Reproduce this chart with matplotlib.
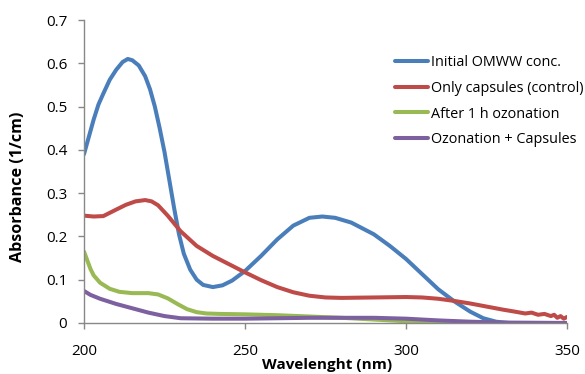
import matplotlib.pyplot as plt

plt.rcParams['font.family'] = ['Open Sans', 'DejaVu Sans']

# wavelength (nm) / absorbance (1/cm)
wl_initial = [200, 201.5, 203, 204.5, 206, 208, 210, 212, 213.6, 215, 217, 219, 220.5, 222, 223.5,
              225, 226.5, 228, 229.5, 231, 233, 235, 237, 240, 243, 246, 250, 255, 260, 265, 270,
              274, 278, 283, 290, 295, 300, 305, 310, 315, 320, 324, 328, 332, 350]
abs_initial = [0.39, 0.43, 0.47, 0.505, 0.53, 0.562, 0.585, 0.603, 0.61, 0.607, 0.595, 0.57, 0.54, 0.50, 0.45,
               0.395, 0.33, 0.265, 0.205, 0.16, 0.123, 0.10, 0.088, 0.083, 0.087, 0.098, 0.12, 0.155, 0.193, 0.225, 0.243,
               0.246, 0.243, 0.232, 0.205, 0.178, 0.148, 0.113, 0.078, 0.05, 0.026, 0.011, 0.003, 0.0, 0.0]

wl_capsules = [200, 203, 206, 210, 213, 216, 219, 221, 223, 226, 230, 235, 240, 245, 250, 255,
               260, 265, 270, 275, 280, 290, 300, 305, 310, 315, 320, 325, 330, 334, 337, 339,
               341, 343, 345, 346, 347, 348, 349, 350]
abs_capsules = [0.248, 0.246, 0.247, 0.262, 0.273, 0.281, 0.284, 0.281, 0.272, 0.248, 0.212, 0.178, 0.155, 0.136, 0.117, 0.099,
                0.083, 0.071, 0.063, 0.059, 0.058, 0.059, 0.06, 0.059, 0.056, 0.051, 0.045, 0.038, 0.031, 0.026, 0.022, 0.024,
                0.019, 0.021, 0.016, 0.019, 0.012, 0.016, 0.010, 0.014]

wl_ozone = [200, 201, 202, 203, 205, 208, 211, 215, 220, 223, 226, 229, 232, 235, 238, 242,
            250, 260, 270, 280, 290, 300, 310, 320, 350]
abs_ozone = [0.165, 0.145, 0.125, 0.11, 0.093, 0.079, 0.072, 0.069, 0.069, 0.066, 0.057, 0.044, 0.032, 0.025, 0.022, 0.021,
             0.02, 0.018, 0.015, 0.012, 0.008, 0.004, 0.002, 0.0, 0.0]

wl_ozone_caps = [200, 202, 205, 210, 215, 220, 225, 230, 240, 250, 260, 270, 280, 290, 300,
                 310, 320, 330, 350]
abs_ozone_caps = [0.074, 0.065, 0.056, 0.044, 0.034, 0.024, 0.016, 0.011, 0.010, 0.010, 0.011, 0.012, 0.012, 0.012, 0.010,
                  0.006, 0.003, 0.001, 0.0]

labels = ["Initial OMWW conc.", "Only capsules (control)", "After 1 h ozonation", "Ozonation + Capsules"]
colors = ["#4A7EBB", "#BE4B48", "#98B954", "#7D60A0"]
x_ticks = [200, 250, 300, 350]
y_ticks = [0, 0.1, 0.2, 0.3, 0.4, 0.5, 0.6, 0.7]
y_tick_labels = ["0", "0.1", "0.2", "0.3", "0.4", "0.5", "0.6", "0.7"]


def main():
    fig = plt.figure(figsize=(5.85, 3.74), dpi=100)
    ax = fig.add_axes([84 / 585, 1 - 323 / 374, (567 - 84) / 585, (323 - 20) / 374])

    series = [(wl_initial, abs_initial), (wl_capsules, abs_capsules),
              (wl_ozone, abs_ozone), (wl_ozone_caps, abs_ozone_caps)]
    for (x, y), lab, c in zip(series, labels, colors):
        ax.plot(x, y, color=c, lw=2.9, label=lab, solid_capstyle='round',
                solid_joinstyle='round')

    ax.set_xlim(200, 350)
    ax.set_ylim(0, 0.7)
    ax.set_xticks(x_ticks)
    ax.set_yticks(y_ticks)
    ax.set_yticklabels(y_tick_labels)

    for s in ["top", "right"]:
        ax.spines[s].set_visible(False)
    for s in ["left", "bottom"]:
        ax.spines[s].set_color("#888888")
        ax.spines[s].set_linewidth(1.0)
    ax.tick_params(axis="both", direction="out", length=4, width=1.0, color="#888888",
                   labelsize=11, labelcolor="black")
    ax.tick_params(axis="x", pad=11)
    ax.tick_params(axis="y", pad=8)

    ax.set_xlabel("Wavelenght (nm)", fontsize=11, fontweight="bold")
    ax.xaxis.set_label_coords(0.504, -0.115)
    ax.set_ylabel("Absorbance (1/cm)", fontsize=11.6, fontweight="bold")
    ax.yaxis.set_label_coords(-0.121, 0.45)

    ax.legend(loc="upper left", bbox_to_anchor=(0.644, 0.885), frameon=False,
              fontsize=10.4, handlelength=2.3, handletextpad=0.2, labelspacing=0.75,
              borderaxespad=0, borderpad=0)

    fig.savefig("out.png", dpi=100)


if __name__ == "__main__":
    main()
